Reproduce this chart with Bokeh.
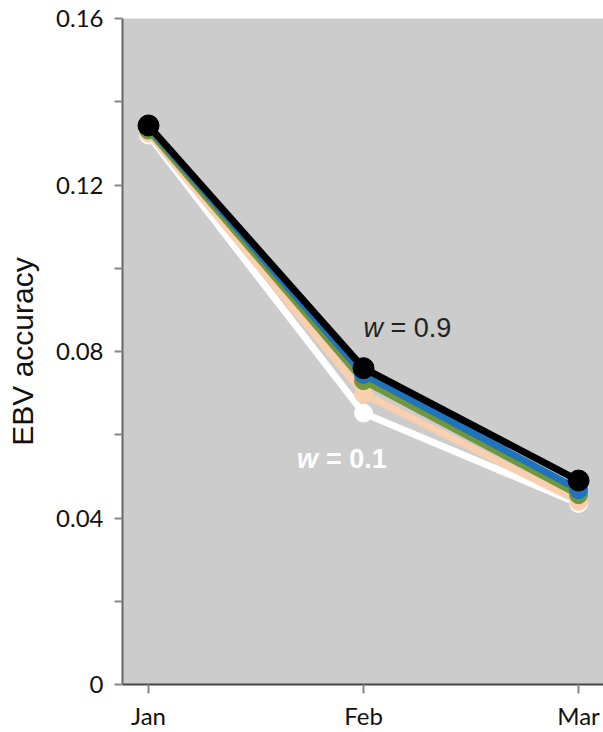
from bokeh.plotting import figure
from bokeh.models import FixedTicker, Range1d
from bokeh.embed import file_html
from bokeh.resources import INLINE
from bokeh.core.properties import value

months = ["Jan", "Feb", "Mar"]
x_pos = [0, 1, 2]

# series (bottom to top)
w01 = [0.1320, 0.0652, 0.0435]   # white, w = 0.1
w03 = [0.1325, 0.0698, 0.0440]   # peach
w05 = [0.1332, 0.0730, 0.0456]   # green
w07 = [0.1340, 0.0745, 0.0468]   # blue
w09 = [0.1343, 0.0760, 0.0490]   # black, w = 0.9

series = [w01, w03, w05, w07, w09]
colors = ["#ffffff", "#f9cfae", "#70983a", "#1f74bd", "#000000"]
sizes = [18, 18, 18, 18, 21]

y_major = [0, 0.04, 0.08, 0.12, 0.16]
y_minor = [0.02, 0.06, 0.10, 0.14]
y_labels = ["0", "0.04", "0.08", "0.12", "0.16"]

p = figure(width=603, height=732, output_backend="svg", toolbar_location=None,
           x_range=Range1d(-0.121, 2.116), y_range=Range1d(0, 0.16),
           min_border_left=122, min_border_right=0, min_border_top=18,
           min_border_bottom=47)
p.background_fill_color = "#cccccc"
p.border_fill_color = "white"
p.outline_line_color = None
p.grid.visible = False

for ys, c, s in zip(series, colors, sizes):
    p.line(x_pos, ys, line_color=c, line_width=7)
    p.scatter(x_pos, ys, size=s, fill_color=c, line_color=c)

# annotations
p.text([1.0], [0.0856], text=["w"], text_font=value("Liberation Sans"),
       text_font_style="italic", text_font_size="27px", text_color="#222222",
       text_align="left", text_baseline="middle")
p.text([1.125], [0.0856], text=["= 0.9"], text_font=value("Liberation Sans"),
       text_font_size="27px", text_color="#222222",
       text_align="left", text_baseline="middle")
p.text([0.69], [0.0542], text=["w"], text_font=value("Liberation Sans"),
       text_font_style="bold italic", text_font_size="27px", text_color="#ffffff",
       text_align="left", text_baseline="middle")
p.text([0.825], [0.0542], text=["= 0.1"], text_font=value("Liberation Sans"),
       text_font_style="bold", text_font_size="27px", text_color="#ffffff",
       text_align="left", text_baseline="middle")

# x axis
xa = p.xaxis[0]
xa.ticker = FixedTicker(ticks=x_pos)
xa.major_label_overrides = {i: m for i, m in zip(x_pos, months)}
xa.axis_line_color = "#444444"
xa.axis_line_width = 2
xa.major_tick_line_color = "#888888"
xa.major_tick_line_width = 2
xa.major_tick_out = 9
xa.major_tick_in = 0
xa.minor_tick_line_color = None
xa.major_label_text_font = "Lato"
xa.major_label_text_font_size = "24px"
xa.major_label_text_color = "#111111"
xa.major_label_standoff = 7

# y axis
ya = p.yaxis[0]
ya.ticker = FixedTicker(ticks=y_major, minor_ticks=y_minor)
ya.major_label_overrides = {v: l for v, l in zip(y_major, y_labels)}
ya.axis_line_color = "#666666"
ya.axis_line_width = 2
ya.major_tick_line_color = "#888888"
ya.major_tick_line_width = 2
ya.major_tick_out = 8
ya.major_tick_in = 0
ya.minor_tick_line_color = "#888888"
ya.minor_tick_line_width = 2
ya.minor_tick_out = 8
ya.minor_tick_in = 0
ya.major_label_text_font = "Lato"
ya.major_label_text_font_size = "24px"
ya.major_label_text_color = "#111111"
ya.major_label_standoff = 11
ya.axis_label = "EBV accuracy"
ya.axis_label_text_font = "Liberation Sans"
ya.axis_label_text_font_style = "normal"
ya.axis_label_text_font_size = "30px"
ya.axis_label_text_color = "#111111"
ya.axis_label_standoff = 14

open("out.html", "w").write(file_html(p, INLINE))
